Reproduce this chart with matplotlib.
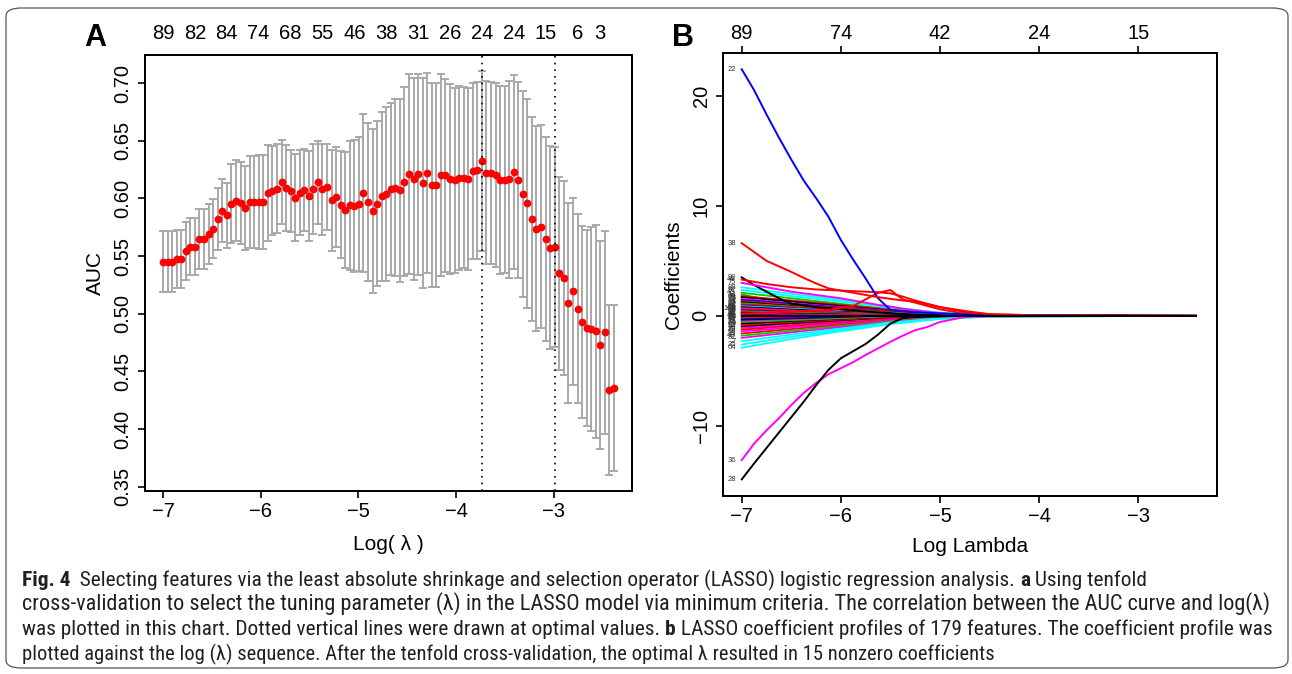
import matplotlib
matplotlib.use("Agg")
import matplotlib.pyplot as plt
from matplotlib import font_manager
from matplotlib.font_manager import FontProperties
from matplotlib.patches import FancyBboxPatch

plt.rcParams['font.family'] = ['Liberation Sans', 'DejaVu Sans']

# ---- panel A: tenfold cross-validated AUC against log(lambda) ----
log_lambda = [
    -7.000, -6.953, -6.907, -6.860, -6.813, -6.767, -6.720, -6.674, -6.627, -6.580,
    -6.534, -6.487, -6.440, -6.394, -6.347, -6.300, -6.254, -6.207, -6.160, -6.114,
    -6.067, -6.021, -5.974, -5.927, -5.881, -5.834, -5.787, -5.741, -5.694, -5.647,
    -5.601, -5.554, -5.508, -5.461, -5.414, -5.368, -5.321, -5.274, -5.228, -5.181,
    -5.134, -5.088, -5.041, -4.994, -4.948, -4.901, -4.855, -4.808, -4.761, -4.715,
    -4.668, -4.621, -4.575, -4.528, -4.481, -4.435, -4.388, -4.342, -4.295, -4.248,
    -4.202, -4.155, -4.108, -4.062, -4.015, -3.968, -3.922, -3.875, -3.828, -3.782,
    -3.735, -3.689, -3.642, -3.595, -3.549, -3.502, -3.455, -3.409, -3.362, -3.315,
    -3.269, -3.222, -3.176, -3.129, -3.082, -3.036, -2.989, -2.942, -2.896, -2.849,
    -2.802, -2.756, -2.709, -2.663, -2.616, -2.569, -2.523, -2.476, -2.429, -2.383,
]
auc_mean = [
    0.5452, 0.5452, 0.5452, 0.5475, 0.5475, 0.5544, 0.5582, 0.5582, 0.5648, 0.5648,
    0.5692, 0.5738, 0.5819, 0.5894, 0.5853, 0.5954, 0.5980, 0.5957, 0.5914, 0.5969,
    0.5969, 0.5969, 0.5969, 0.6047, 0.6067, 0.6084, 0.6142, 0.6090, 0.6064, 0.6006,
    0.6050, 0.6070, 0.6018, 0.6079, 0.6139, 0.6079, 0.6099, 0.5983, 0.6009, 0.5946,
    0.5897, 0.5940, 0.5934, 0.5951, 0.6047, 0.5966, 0.5888, 0.5954, 0.6018, 0.6041,
    0.6081, 0.6093, 0.6070, 0.6145, 0.6209, 0.6168, 0.6209, 0.6136, 0.6220, 0.6116,
    0.6116, 0.6200, 0.6200, 0.6168, 0.6157, 0.6180, 0.6180, 0.6168, 0.6237, 0.6243,
    0.6327, 0.6223, 0.6223, 0.6203, 0.6162, 0.6162, 0.6165, 0.6229, 0.6159, 0.6038,
    0.5957, 0.5819, 0.5738, 0.5755, 0.5651, 0.5573, 0.5582, 0.5351, 0.5310, 0.5091,
    0.5195, 0.5044, 0.4929, 0.4880, 0.4868, 0.4848, 0.4730, 0.4839, 0.4337, 0.4354,
]
auc_sd = [
    0.0263, 0.0263, 0.0263, 0.0254, 0.0254, 0.0248, 0.0246, 0.0246, 0.0260, 0.0260,
    0.0260, 0.0257, 0.0269, 0.0274, 0.0283, 0.0341, 0.0352, 0.0355, 0.0364, 0.0401,
    0.0401, 0.0410, 0.0410, 0.0419, 0.0387, 0.0384, 0.0364, 0.0370, 0.0355, 0.0376,
    0.0370, 0.0355, 0.0390, 0.0390, 0.0358, 0.0393, 0.0373, 0.0436, 0.0433, 0.0462,
    0.0503, 0.0560, 0.0569, 0.0578, 0.0682, 0.0685, 0.0711, 0.0716, 0.0734, 0.0754,
    0.0742, 0.0765, 0.0794, 0.0817, 0.0867, 0.0875, 0.0872, 0.0910, 0.0867, 0.0881,
    0.0881, 0.0875, 0.0838, 0.0823, 0.0803, 0.0797, 0.0783, 0.0786, 0.0760, 0.0768,
    0.0780, 0.0794, 0.0789, 0.0800, 0.0815, 0.0812, 0.0852, 0.0838, 0.0852, 0.0895,
    0.0904, 0.0884, 0.0890, 0.0881, 0.0884, 0.0878, 0.0867, 0.0835, 0.0838, 0.0867,
    0.0809, 0.0820, 0.0829, 0.0849, 0.0884, 0.0921, 0.0901, 0.0881, 0.0737, 0.0719,
]
lambda_min_idx = 70
lambda_1se_idx = 86
nz_idx_a = [0, 7, 14, 21, 28, 35, 42, 49, 56, 63, 70, 77, 84, 91, 96]
nz_count_a = [89, 82, 84, 74, 68, 55, 46, 38, 31, 26, 24, 24, 15, 6, 3]
auc_ticks = [0.35, 0.40, 0.45, 0.50, 0.55, 0.60, 0.65, 0.70]

# ---- panel B: coefficient profiles ----
path_x = [-7.0, -6.875, -6.75, -6.625, -6.5, -6.375, -6.25, -6.125, -6.0, -5.875, -5.75,
          -5.625, -5.5, -5.375, -5.25, -5.125, -5.0, -4.75, -4.5, -4.0, -3.0, -2.42]
coef_22 = [22.4, 20.5, 18.3, 16.2, 14.2, 12.3, 10.7, 9.0, 6.9, 5.1, 3.4,
           1.6, 0.55, 0.4, 0.33, 0.28, 0.22, 0.14, 0.08, 0.04, 0.01, 0.0]
coef_38 = [6.6, 5.8, 5.0, 4.5, 4.0, 3.45, 2.95, 2.5, 2.3, 2.1, 1.9,
           1.7, 1.55, 1.4, 1.3, 1.05, 0.8, 0.35, 0.15, 0.05, 0.01, 0.0]
coef_36 = [-13.1, -11.6, -10.4, -9.3, -8.1, -7.0, -6.1, -5.3, -4.75, -4.2, -3.55,
           -2.95, -2.35, -1.8, -1.3, -1.0, -0.55, -0.1, -0.04, -0.02, 0.0, 0.0]
coef_28 = [-14.85, -13.4, -12.0, -10.6, -9.2, -7.8, -6.3, -4.9, -3.85, -3.2, -2.55,
           -1.7, -0.7, -0.2, -0.1, -0.07, -0.05, 0.0, 0.0, 0.0, 0.0, 0.0]
coef_red_hi = [3.3, 3.1, 2.9, 2.75, 2.6, 2.5, 2.4, 2.35, 2.3, 2.25, 2.2,
               2.15, 2.05, 1.75, 1.4, 1.1, 0.8, 0.45, 0.15, 0.05, 0.01, 0.0]
coef_red_bump = [0.2, 0.25, 0.3, 0.35, 0.4, 0.45, 0.5, 0.55, 0.7, 0.9, 1.5,
                 2.1, 2.35, 1.5, 1.2, 0.9, 0.6, 0.2, 0.05, 0.02, 0.0, 0.0]
coef_mag_hi = [3.0, 2.8, 2.6, 2.4, 2.2, 2.05, 1.9, 1.75, 1.6, 1.4, 1.2,
               1.0, 0.85, 0.65, 0.5, 0.37, 0.25, 0.1, 0.03, 0.0, 0.0, 0.0]
coef_blk_hi = [3.5, 2.8, 2.2, 1.6, 1.1, 0.95, 0.8, 0.7, 0.6, 0.5, 0.4,
               0.32, 0.25, 0.17, 0.1, 0.07, 0.05, 0.0, 0.0, 0.0, 0.0, 0.0]
main_paths = [coef_blk_hi, coef_red_hi, coef_mag_hi, coef_red_bump, coef_22, coef_38, coef_36, coef_28]
main_colors = ['black', 'red', 'magenta', 'red', 'blue', 'red', 'magenta', 'black']
main_labels = ['90', '44', '75', '', '22', '38', '36', '28']

bundle_x = [-7.0, -6.5, -6.0, -5.5, -5.0, -4.5, -2.42]
bundle_coefs = [
    [2.6, 2.0, 1.45, 0.8, 0.3, 0.06, 0.0],
    [2.35, 1.8, 1.3, 0.75, 0.28, 0.05, 0.0],
    [2.1, 1.6, 1.1, 0.6, 0.22, 0.04, 0.0],
    [1.95, 1.0, 0.7, 0.45, 0.2, 0.05, 0.0],
    [1.8, 1.4, 1.0, 0.55, 0.2, 0.04, 0.0],
    [1.7, 1.3, 0.9, 0.5, 0.18, 0.03, 0.0],
    [1.55, 1.15, 0.8, 0.45, 0.15, 0.03, 0.0],
    [1.45, 1.1, 0.75, 0.42, 0.17, 0.04, 0.0],
    [1.35, 1.0, 0.7, 0.38, 0.14, 0.02, 0.0],
    [1.25, 0.9, 0.6, 0.32, 0.1, 0.02, 0.0],
    [1.15, 0.85, 0.58, 0.3, 0.1, 0.02, 0.0],
    [1.05, 0.8, 0.55, 0.3, 0.12, 0.03, 0.0],
    [0.95, 0.7, 0.45, 0.22, 0.07, 0.0, 0.0],
    [0.88, 0.65, 0.45, 0.25, 0.1, 0.02, 0.0],
    [0.8, 0.58, 0.38, 0.2, 0.07, 0.01, 0.0],
    [0.72, 0.5, 0.32, 0.16, 0.05, 0.0, 0.0],
    [0.65, 0.47, 0.3, 0.15, 0.05, 0.0, 0.0],
    [0.58, 0.42, 0.28, 0.15, 0.06, 0.01, 0.0],
    [0.5, 0.35, 0.22, 0.1, 0.03, 0.0, 0.0],
    [0.42, 0.3, 0.2, 0.1, 0.04, 0.0, 0.0],
    [0.35, 0.24, 0.15, 0.07, 0.02, 0.0, 0.0],
    [0.28, 0.2, 0.12, 0.06, 0.02, 0.0, 0.0],
    [0.2, 0.14, 0.08, 0.03, 0.0, 0.0, 0.0],
    [0.12, 0.08, 0.05, 0.02, 0.0, 0.0, 0.0],
    [0.05, 0.03, 0.01, 0.0, 0.0, 0.0, 0.0],
    [-0.05, -0.03, -0.01, 0.0, 0.0, 0.0, 0.0],
    [-0.12, -0.08, -0.05, -0.02, 0.0, 0.0, 0.0],
    [-0.2, -0.14, -0.09, -0.04, -0.01, 0.0, 0.0],
    [-0.3, -0.22, -0.14, -0.07, -0.02, 0.0, 0.0],
    [-0.4, -0.3, -0.2, -0.1, -0.04, 0.0, 0.0],
    [-0.5, -0.38, -0.26, -0.14, -0.06, -0.01, 0.0],
    [-0.6, -0.45, -0.3, -0.16, -0.06, -0.01, 0.0],
    [-0.72, -0.55, -0.38, -0.2, -0.08, -0.02, 0.0],
    [-0.85, -0.62, -0.42, -0.22, -0.08, -0.01, 0.0],
    [-0.98, -0.72, -0.5, -0.27, -0.1, -0.02, 0.0],
    [-1.1, -0.82, -0.56, -0.3, -0.11, -0.02, 0.0],
    [-1.25, -0.92, -0.62, -0.33, -0.12, -0.02, 0.0],
    [-1.4, -1.05, -0.72, -0.38, -0.14, -0.03, 0.0],
    [-1.6, -1.2, -0.82, -0.44, -0.16, -0.03, 0.0],
    [-1.8, -1.35, -0.92, -0.48, -0.18, -0.04, 0.0],
    [-2.0, -1.5, -1.02, -0.54, -0.2, -0.04, 0.0],
    [-2.3, -1.7, -1.15, -0.6, -0.22, -0.05, 0.0],
    [-2.6, -1.9, -1.28, -0.68, -0.25, -0.05, 0.0],
    [-2.9, -2.1, -1.4, -0.75, -0.28, -0.06, 0.0],
    [0.0, 0.0, 0.0, 0.0, 0.0, 0.0, 0.0],
]
bundle_colors = [
    'cyan', 'cyan', 'green3', 'green3', 'red', 'black', 'magenta', 'blue', 'red', 'black',
    'green3', 'red', 'blue', 'cyan', 'black', 'red', 'magenta', 'red', 'blue', 'green3',
    'red', 'black', 'magenta', 'red', 'blue', 'black', 'green3', 'red', 'blue', 'black',
    'magenta', 'green3', 'black', 'red', 'black', 'magenta', 'red', 'magenta', 'red', 'green3',
    'magenta', 'cyan', 'cyan', 'cyan', 'black',
]
bundle_labels = [
    '88', '97', '45', '12', '60', '73', '5', '91', '14', '33', '57', '2', '80', '66', '19',
    '41', '101', '8', '52', '77', '30', '95', '11', '68', '46', '3', '24', '85', '59', '17',
    '71', '40', '9', '93', '54', '26', '79', '63', '15', '49', '82', '7', '35', '64', '',
]
nz_ticks_b = [-7, -6, -5, -4, -3]
nz_count_b = [89, 74, 42, 24, 15]
coef_ticks = [-10, 0, 10, 20]

r_colors = {'black': '#000000', 'red': '#FF0000', 'green3': '#00CD00', 'blue': '#0000FF',
            'cyan': '#00FFFF', 'magenta': '#FF00FF'}

W, H = 1292, 674
fig = plt.figure(figsize=(W / 100, H / 100), dpi=100)


def px_box(left, top, right, bottom):
    return [left / W, 1 - bottom / H, (right - left) / W, (bottom - top) / H]


def style_axes(ax):
    for s in ax.spines.values():
        s.set_linewidth(1.3)
    ax.tick_params(direction='out', length=5, width=1.2, labelsize=14.5, colors='black')


# ---------------- panel A ----------------
ax_a = fig.add_axes(px_box(145, 55, 632, 491))
ax_a.errorbar(log_lambda, auc_mean, yerr=auc_sd, fmt='none', ecolor='#a9a9a9',
              elinewidth=1.4, capsize=3.0, capthick=1.4, zorder=2)
ax_a.plot(log_lambda, auc_mean, 'o', color='red', ms=4.6, mec='red', zorder=3)
for i in (lambda_min_idx, lambda_1se_idx):
    ax_a.axvline(log_lambda[i], color='black', lw=1.2, ls=(0, (1, 3)), zorder=4)
ax_a.set_xlim(-7.185, -2.198)
ax_a.set_ylim(0.3464, 0.7243)
ax_a.set_xticks([-7, -6, -5, -4, -3])
ax_a.set_xticklabels(['\u22127', '\u22126', '\u22125', '\u22124', '\u22123'])
ax_a.set_yticks(auc_ticks)
ax_a.set_yticklabels(['%.2f' % v for v in auc_ticks], rotation=90, va='center')
style_axes(ax_a)
ax_a.tick_params(axis='x', pad=3)
ax_a.tick_params(axis='y', pad=4)
ax_a.set_ylabel('AUC', fontsize=15, labelpad=6)
ax_a.set_xlabel('Log( \u03bb )', fontsize=15, labelpad=10)

top_a = ax_a.twiny()
top_a.set_xlim(ax_a.get_xlim())
top_a.set_xticks([log_lambda[i] for i in nz_idx_a])
top_a.set_xticklabels([str(n) for n in nz_count_a])
style_axes(top_a)
top_a.tick_params(axis='x', length=0, pad=8.5)

fig.text(95 / W, 1 - 38 / H, 'A', fontsize=22, fontweight='bold', ha='center', va='center')

# ---------------- panel B ----------------
ax_b = fig.add_axes(px_box(723, 53, 1217, 496))
for ys, c in zip(bundle_coefs, bundle_colors):
    ax_b.plot(bundle_x, ys, color=r_colors[c], lw=1.3, solid_joinstyle='round')
for ys, c in zip(main_paths, main_colors):
    ax_b.plot(path_x, ys, color=r_colors[c], lw=1.4, solid_joinstyle='round')
ax_b.plot(bundle_x, bundle_coefs[-1], color='black', lw=1.4)

for ys, lab in zip(bundle_coefs + main_paths, bundle_labels + main_labels):
    if lab:
        ax_b.text(-7.06, ys[0], lab, fontsize=5.5, color='#333333', ha='right', va='center')

ax_b.set_xlim(-7.189, -2.205)
ax_b.set_ylim(-16.36, 23.88)
ax_b.set_xticks([-7, -6, -5, -4, -3])
ax_b.set_xticklabels(['\u22127', '\u22126', '\u22125', '\u22124', '\u22123'])
ax_b.set_yticks(coef_ticks)
ax_b.set_yticklabels(['\u221210', '0', '10', '20'], rotation=90, va='center')
style_axes(ax_b)
ax_b.tick_params(axis='x', pad=3)
ax_b.tick_params(axis='y', pad=4)
ax_b.set_ylabel('Coefficients', fontsize=15, labelpad=6)
ax_b.set_xlabel('Log Lambda', fontsize=15, labelpad=8)

top_b = ax_b.twiny()
top_b.set_xlim(ax_b.get_xlim())
top_b.set_xticks(nz_ticks_b)
top_b.set_xticklabels([str(n) for n in nz_count_b])
style_axes(top_b)
top_b.tick_params(axis='x', length=5, pad=2.5)

fig.text(683 / W, 1 - 38 / H, 'B', fontsize=22, fontweight='bold', ha='center', va='center')

# ---------------- caption ----------------
cap_lines = [
    [('Fig. 4', 'bold'),
     ('  Selecting features via the least absolute shrinkage and selection operator (LASSO) logistic regression analysis. ', 'normal'),
     ('a', 'bold'), (' Using tenfold', 'normal')],
    [('cross-validation to select the tuning parameter (\u03bb) in the LASSO model via minimum criteria. '
      'The correlation between the AUC curve and log(\u03bb)', 'normal')],
    [('was plotted in this chart. Dotted vertical lines were drawn at optimal values. ', 'normal'),
     ('b', 'bold'), (' LASSO coefficient profiles of 179 features. The coefficient profile was', 'normal')],
    [('plotted against the log (\u03bb) sequence. After the tenfold cross-validation, '
      'the optimal \u03bb resulted in 15 nonzero coefficients', 'normal')],
]
cap_baselines = [586, 610, 635, 660]
cap_right = [1148, 1278, 1273, 904]
cap_left = 22


def pick_caption_font():
    # the journal caption uses a condensed face; take the first condensed one installed
    entries = font_manager.fontManager.ttflist
    for fam in ['Liberation Sans Narrow', 'Roboto Condensed', 'Open Sans Condensed']:
        if any(f.name == fam for f in entries):
            return fam, 'normal'
    for fam in ['Open Sans', 'Noto Sans', 'Roboto', 'DejaVu Sans', 'Lato', 'Inter']:
        if any(f.name == fam and f.stretch == 'condensed' for f in entries):
            return fam, 'condensed'
    return 'Liberation Sans', 'normal'


cap_family, cap_stretch = pick_caption_font()
renderer = fig.canvas.get_renderer()


def cap_font(size, weight):
    return FontProperties(family=[cap_family, 'DejaVu Sans'], stretch=cap_stretch,
                          weight=weight, size=size)


def measure(parts, size):
    w = 0
    for s, wt in parts:
        t = fig.text(0, 0, s, fontproperties=cap_font(size, wt))
        w += t.get_window_extent(renderer).width
        t.remove()
    return w


def draw_parts(parts, x0, y, size):
    x = x0
    for s, wt in parts:
        t = fig.text(x / W, 1 - y / H, s, fontproperties=cap_font(size, wt),
                     color='#231f20', va='baseline', ha='left')
        x += t.get_window_extent(renderer).width


fit = [12 * (r - cap_left) / measure(p, 12) for p, r in zip(cap_lines, cap_right)]
ref_size = fit[2]
for parts, yb, s in zip(cap_lines, cap_baselines, fit):
    # keep the lines close to one type size
    s = min(max(s, ref_size * 0.96), ref_size * 1.04)
    draw_parts(parts, cap_left, yb, s)

border = FancyBboxPatch((6 / W, 1 - 668 / H), (1288 - 6) / W, (668 - 8) / H,
                        boxstyle='round,pad=0,rounding_size=0.012', transform=fig.transFigure,
                        fill=False, edgecolor='#555555', lw=0.9)
fig.patches.append(border)

fig.savefig('out.png', dpi=100)
